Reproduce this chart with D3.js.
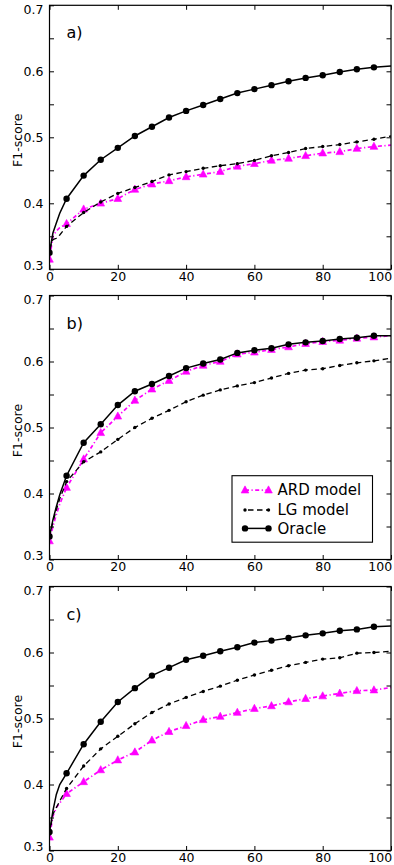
<!DOCTYPE html>
<html>
<head>
<meta charset="utf-8">
<script src="https://cdn.jsdelivr.net/npm/d3@7"></script>
<style>
  body { margin: 0; background: #fff; }
  text { font-family: "DejaVu Sans", sans-serif; }
</style>
</head>
<body>
<div id="chart"></div>
<script>
// x positions of the samples (markers only every 5, up to 95)
var steps = [0, 1, 2, 3, 5, 10, 15, 20, 25, 30, 35, 40, 45, 50, 55, 60, 65, 70, 75, 80, 85, 90, 95, 100];
var xTicks = [0, 20, 40, 60, 80, 100];
var yTicks = [0.3, 0.35, 0.4, 0.45, 0.5, 0.55, 0.6, 0.65, 0.7];
var yLabels = [0.3, 0.4, 0.5, 0.6, 0.7];
var panelNames = ["a)", "b)", "c)"];
var seriesNames = ["ARD model", "LG model", "Oracle"];

var ardA    = [0.315,0.350,0.358,0.363, 0.369,0.391,0.400,0.407,0.421,0.429,0.434,0.440,0.444,0.448,0.456,0.460,0.465,0.468,0.472,0.476,0.478,0.483,0.486,0.488];
var lgA     = [0.330,0.345,0.347,0.352, 0.365,0.386,0.402,0.415,0.424,0.433,0.443,0.448,0.453,0.457,0.460,0.465,0.472,0.477,0.483,0.486,0.489,0.493,0.497,0.502];
var oracleA = [0.325,0.355,0.370,0.385, 0.407,0.442,0.466,0.484,0.502,0.516,0.530,0.540,0.549,0.558,0.567,0.573,0.579,0.585,0.590,0.594,0.599,0.603,0.606,0.608];

var ardB    = [0.328,0.350,0.368,0.384, 0.409,0.452,0.492,0.517,0.541,0.558,0.571,0.585,0.594,0.600,0.611,0.614,0.618,0.622,0.627,0.630,0.632,0.635,0.637,0.639];
var lgB     = [0.334,0.357,0.375,0.392, 0.418,0.448,0.463,0.482,0.500,0.514,0.526,0.539,0.549,0.557,0.563,0.568,0.575,0.582,0.587,0.589,0.594,0.598,0.601,0.605];
var oracleB = [0.335,0.360,0.380,0.398, 0.427,0.477,0.505,0.534,0.555,0.566,0.578,0.590,0.597,0.603,0.613,0.617,0.620,0.626,0.629,0.631,0.634,0.636,0.639,0.639];

var ardC    = [0.320,0.352,0.365,0.372, 0.386,0.404,0.422,0.437,0.449,0.467,0.480,0.489,0.498,0.503,0.509,0.515,0.519,0.525,0.530,0.534,0.538,0.542,0.543,0.547];
var lgC     = [0.325,0.355,0.365,0.375, 0.394,0.428,0.454,0.473,0.492,0.509,0.522,0.532,0.541,0.549,0.558,0.566,0.573,0.580,0.585,0.590,0.592,0.599,0.600,0.602];
var oracleC = [0.328,0.360,0.385,0.400, 0.417,0.461,0.495,0.525,0.546,0.565,0.577,0.589,0.595,0.602,0.608,0.615,0.618,0.622,0.626,0.629,0.633,0.635,0.639,0.640];

var panels = [
  {name: panelNames[0], ard: ardA, lg: lgA, oracle: oracleA, legend: false},
  {name: panelNames[1], ard: ardB, lg: lgB, oracle: oracleB, legend: true},
  {name: panelNames[2], ard: ardC, lg: lgC, oracle: oracleC, legend: false}
];

var W = 394, H = 865;
var left = 49.5, right = 391, ph = 264;
var tops = [5.3, 295.5, 586.5];

var svg = d3.select("#chart").append("svg")
    .attr("width", W)
    .attr("height", H);

var x = d3.scaleLinear().domain([0, 100]).range([0, right - left]);
var y = d3.scaleLinear().domain([0.3, 0.7]).range([ph, 0]);

var magenta = "#ff00ff";

function pts(vals) {
  return steps.map(function(s, i) { return {x: s, v: vals[i]}; });
}
function isMark(d) { return d.x % 5 === 0 && d.x < 100; }

var line = d3.line()
  .x(function(d) { return x(d.x); })
  .y(function(d) { return y(d.v); });

function triangle(g, cx, cy, s) {
  g.append("path")
    .attr("d", "M" + cx + "," + (cy - s * 0.62) + "L" + (cx + s * 0.55) + "," + (cy + s * 0.4) + "L" + (cx - s * 0.55) + "," + (cy + s * 0.4) + "Z")
    .attr("fill", magenta)
    .attr("stroke", magenta)
    .attr("stroke-width", 0.6);
}

panels.forEach(function(p, pi) {
  var g = svg.append("g")
    .attr("transform", "translate(" + left + "," + tops[pi] + ")");

  g.append("clipPath").attr("id", "clip" + pi)
    .append("rect").attr("width", x.range()[1]).attr("height", ph);

  var plot = g.append("g").attr("clip-path", "url(#clip" + pi + ")");

  // ARD model
  var ard = pts(p.ard);
  plot.append("path").datum(ard)
    .attr("d", line)
    .attr("fill", "none")
    .attr("stroke", magenta)
    .attr("stroke-width", 1.7)
    .attr("stroke-dasharray", "4,2.5,1.2,2.5");
  ard.filter(isMark).forEach(function(d) { triangle(plot, x(d.x), y(d.v), 7); });

  // LG model
  var lg = pts(p.lg);
  plot.append("path").datum(lg)
    .attr("d", line)
    .attr("fill", "none")
    .attr("stroke", "#000")
    .attr("stroke-width", 1.3)
    .attr("stroke-dasharray", "5.5,3.5");
  plot.selectAll(".lgdot").data(lg.filter(isMark)).enter()
    .append("circle")
      .attr("cx", function(d) { return x(d.x); })
      .attr("cy", function(d) { return y(d.v); })
      .attr("r", 1.7)
      .attr("fill", "#000");

  // Oracle
  var orc = pts(p.oracle);
  plot.append("path").datum(orc)
    .attr("d", line)
    .attr("fill", "none")
    .attr("stroke", "#000")
    .attr("stroke-width", 1.5);
  plot.selectAll(".odot").data(orc.filter(isMark)).enter()
    .append("circle")
      .attr("cx", function(d) { return x(d.x); })
      .attr("cy", function(d) { return y(d.v); })
      .attr("r", 3.2)
      .attr("fill", "#000");

  // axes, ticks pointing inward
  var fmtY = function(d) {
    return yLabels.some(function(l) { return Math.abs(l - d) < 1e-9; }) ? d3.format(".1f")(d) : "";
  };
  var ya = g.append("g").call(d3.axisLeft(y).tickValues(yTicks).tickFormat(fmtY).tickSize(-4.5).tickPadding(6));
  var yr = g.append("g").attr("transform", "translate(" + x.range()[1] + ",0)")
    .call(d3.axisRight(y).tickValues(yTicks).tickFormat("").tickSize(-4.5));
  var xb = g.append("g").attr("transform", "translate(0," + ph + ")")
    .call(d3.axisBottom(x).tickValues(xTicks).tickFormat(d3.format("d")).tickSize(-4.5).tickPadding(3));
  var xt = g.append("g")
    .call(d3.axisTop(x).tickValues(xTicks).tickFormat("").tickSize(-4.5));
  [ya, yr, xb, xt].forEach(function(a) {
    a.select(".domain").remove();
    a.selectAll("text").style("font-size", "12.5px").attr("fill", "#000").style("font-family", "DejaVu Sans");
    a.selectAll("line").attr("stroke", "#000");
  });
  // end labels sit a little inside the frame, as in the figure
  ya.selectAll(".tick text").attr("dy", function(d) {
    if (Math.abs(d - 0.7) < 1e-9) return "0.62em";
    if (Math.abs(d - 0.3) < 1e-9) return "0.0em";
    return "0.32em";
  });
  xb.selectAll(".tick text").filter(function(d) { return d === 100; })
    .attr("text-anchor", "end")
    .attr("dx", "0.05em");

  g.append("rect")
    .attr("width", x.range()[1])
    .attr("height", ph)
    .attr("fill", "none")
    .attr("stroke", "#000")
    .attr("stroke-width", 1.2);

  g.append("text")
    .attr("transform", "translate(" + (18 - left) + "," + (ph / 2 + 3) + ") rotate(-90)")
    .attr("text-anchor", "middle")
    .attr("dy", "0.35em")
    .style("font-size", "12.5px")
    .text("F1-score");

  g.append("text")
    .attr("x", 17)
    .attr("y", 33)
    .style("font-size", "16px")
    .text(p.name);

  if (p.legend) {
    var lgd = g.append("g").attr("transform", "translate(" + (232 - left) + "," + (475.7 - tops[pi]) + ")");
    lgd.append("rect")
      .attr("width", 140.5)
      .attr("height", 66.5)
      .attr("fill", "#fff")
      .attr("stroke", "#000")
      .attr("stroke-width", 1.1);
    var rows = [14.5, 34.3, 52.7];
    var x0 = 13, x1 = 36.5;
    // ARD
    lgd.append("line").attr("x1", x0).attr("x2", x1).attr("y1", rows[0]).attr("y2", rows[0])
      .attr("stroke", magenta).attr("stroke-width", 1.7).attr("stroke-dasharray", "4,2.5,1.2,2.5");
    triangle(lgd, x0, rows[0], 7);
    triangle(lgd, x1, rows[0], 7);
    // LG
    lgd.append("line").attr("x1", x0).attr("x2", x1).attr("y1", rows[1]).attr("y2", rows[1])
      .attr("stroke", "#000").attr("stroke-width", 1.3).attr("stroke-dasharray", "5.5,3.5").attr("stroke-dashoffset", -3);
    [x0, x1].forEach(function(cx) {
      lgd.append("circle").attr("cx", cx).attr("cy", rows[1]).attr("r", 1.7).attr("fill", "#000");
    });
    // Oracle
    lgd.append("line").attr("x1", x0).attr("x2", x1).attr("y1", rows[2]).attr("y2", rows[2])
      .attr("stroke", "#000").attr("stroke-width", 1.5);
    [x0, x1].forEach(function(cx) {
      lgd.append("circle").attr("cx", cx).attr("cy", rows[2]).attr("r", 3.2).attr("fill", "#000");
    });
    seriesNames.forEach(function(n, i) {
      lgd.append("text")
        .attr("x", 45.5)
        .attr("y", rows[i])
        .attr("dy", "0.35em")
        .style("font-size", "15px")
        .text(n);
    });
  }
});
</script>
</body>
</html>
